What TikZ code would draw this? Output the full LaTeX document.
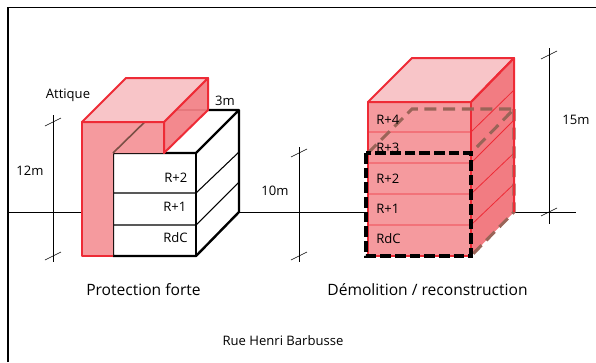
\documentclass[tikz,border=0pt]{standalone}
\usepackage{fontspec}
\setmainfont{Open Sans}
\usepackage{xcolor}
\usetikzlibrary{positioning}
\definecolor{redline}{HTML}{EE2B36}
\definecolor{redfront}{HTML}{F59A9E}
\definecolor{redtop}{HTML}{F8C5C8}
\definecolor{redside}{HTML}{F27C82}
\definecolor{brownline}{HTML}{9A6458}
\tikzset{
  label/.style={font=\fontsize{9.8}{11}\selectfont,inner sep=0pt},
  caption/.style={font=\fontsize{11.7}{13}\selectfont,inner sep=0pt},
  dimline/.style={line width=0.7pt,black},
  tickline/.style={line width=0.45pt,black},
  redface/.style={draw=redline,line width=1.5pt,line join=round},
  blackdash/.style={line width=2.4pt,black,dash pattern=on 8pt off 3pt},
  browndash/.style={line width=2.3pt,brownline,dash pattern=on 9pt off 5pt}
}
\begin{document}
\begin{tikzpicture}[x=0.75pt,y=-0.75pt]
  \useasboundingbox (0,0) rectangle (596,362);
  % frame
  \draw[line width=0.9pt] (8,362) -- (8,7.5) -- (596,7.5);
  % ground
  \draw[dimline] (9,212) -- (82,212);
  \draw[dimline] (239,212) -- (368,212);
  \draw[dimline] (514,212) -- (576,212);
  % heights
  \foreach \x/\ya/\yb/\yc/\yd in {53/115/262/122/256, 299/147/262/153/256, 549/48/224/55/212}
  {
    \draw[dimline] (\x,\ya) -- (\x,\yb);
    \draw[tickline] (\x-8,\yc+4) -- (\x+8,\yc-4);
    \draw[tickline] (\x-8,\yd+4) -- (\x+8,\yd-4);
  }
  % protection forte, white block
  \fill[white] (113,153) rectangle (196,256);
  \fill[white] (196,153) -- (239,110) -- (239,212) -- (196,256) -- cycle;
  \draw[line width=0.8pt] (113,193) -- (196,193) -- (239,152);
  \draw[line width=0.8pt] (113,225) -- (196,225) -- (239,182);
  \draw[line width=1.8pt,line join=round] (208,110) -- (239,110) -- (239,212) -- (196,256) -- (113,256) -- (113,153) -- (196,153) -- (239,110);
  \draw[line width=1.8pt] (196,153) -- (196,256);
  % attique
  \fill[redfront] (82,122) -- (164,122) -- (164,153) -- (113,153) -- (113,256) -- (82,256) -- cycle;
  \draw[line width=1.2pt,brownline!80!black] (113,153) -- (157,110) -- (208,110);
  \draw[redface,fill=redside,fill opacity=0.9] (164,122) -- (208,78) -- (208,110) -- (164,153) -- cycle;
  \draw[redface,fill=redtop] (82,122) -- (126,78) -- (208,78) -- (164,122) -- cycle;
  \draw[redface] (113,256) -- (82,256) -- (82,122) -- (164,122) -- (164,153);
  % demolition, red block
  \fill[redfront] (368,102) rectangle (471,256);
  \fill[redside] (471,102) -- (514,58) -- (514,212) -- (471,256) -- cycle;
  \draw[redface,fill=redtop] (368,102) -- (412,58) -- (514,58) -- (471,102) -- cycle;
  \foreach \y/\z in {132/90, 163/120, 194/153, 225/184}
    \draw[redline,line width=0.6pt] (368,\y) -- (471,\y) -- (514,\z);
  % old volume
  \draw[browndash] (514,109) -- (514,212) -- (471,256);
  \draw[redface] (368,102) rectangle (471,256);
  \draw[redface] (471,102) -- (514,58) -- (514,212);
  \draw[browndash] (368,153) -- (412,109) -- (514,109) -- (471,153);
  \draw[blackdash] (366,153) rectangle (471,256);
  % labels
  \node[label] (attique) at (68,95) {Attique};
  \node[label] (troism) at (225,101) {3m};
  \node[label] (douzem) at (30,171) {12m};
  \node[label] (dixm) at (275,191) {10m};
  \node[label] (quinzem) at (576,120) {15m};
  \foreach \nom/\txt/\x/\y in {ga/R+2/164/178, gb/R+1/163/207, gc/RdC/163/238,
    da/R+4/376/120, db/R+3/376/148, dc/R+2/376/179, dd/R+1/376/209, de/RdC/376/239}
    \node[label,anchor=west] (\nom) at (\x,\y) {\txt};
  \node[caption] (protection) at (143.5,290) {Protection forte};
  \node[caption] (demolition) at (427.5,290) {Démolition / reconstruction};
  \node[label] (rue) at (283,341) {Rue Henri Barbusse};
\end{tikzpicture}
\end{document}
